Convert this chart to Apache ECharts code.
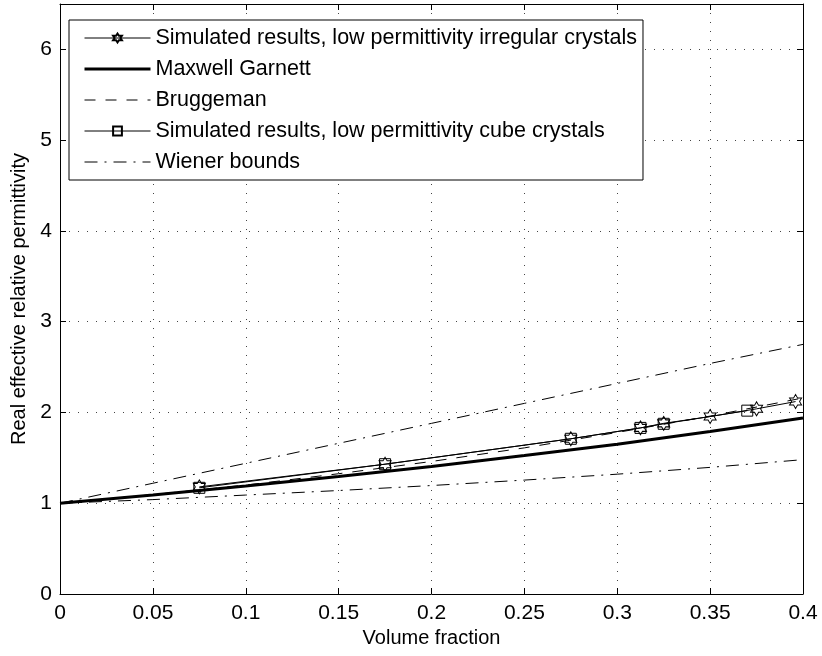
<!DOCTYPE html>
<html>
<head>
<meta charset="utf-8">
<script src="https://cdn.jsdelivr.net/npm/echarts@6/dist/echarts.min.js"></script>
<style>
  html, body { margin: 0; padding: 0; background: #fff; }
  #chart { width: 822px; height: 656px; }
</style>
</head>
<body>
<div id="chart"></div>
<script>
// volume fraction grid for the model curves
var fraction = [0, 0.05, 0.1, 0.15, 0.2, 0.25, 0.3, 0.35, 0.4]
var maxwellGarnett = [1, 1.09, 1.19, 1.295, 1.405, 1.525, 1.65, 1.79, 1.94]
var bruggeman = [1, 1.095, 1.2, 1.325, 1.46, 1.61, 1.78, 1.96, 2.16]
var wienerUpper = [1, 1.22, 1.44, 1.66, 1.88, 2.10, 2.32, 2.54, 2.75]
var wienerLower = [1, 1.04, 1.09, 1.14, 1.195, 1.255, 1.32, 1.395, 1.48]

// simulated results
var irregularX = [0.075, 0.175, 0.275, 0.3125, 0.325, 0.35, 0.375, 0.396]
var irregularY = [1.18, 1.43, 1.71, 1.83, 1.88, 1.955, 2.04, 2.12]
var cubeX = [0.075, 0.175, 0.275, 0.3125, 0.325, 0.37]
var cubeY = [1.17, 1.43, 1.71, 1.83, 1.875, 2.02]

var names = [
  'Simulated results, low permittivity irregular crystals',
  'Maxwell Garnett',
  'Bruggeman',
  'Simulated results, low permittivity cube crystals',
  'Wiener bounds'
]

var FONT = 'Liberation Sans, Arial, Helvetica, sans-serif'
var hexagram = 'path://M100,0 L128.87,50 L186.6,50 L157.7,100 L186.6,150 L128.87,150 L100,200 L71.13,150 L13.4,150 L42.3,100 L13.4,50 L71.13,50 Z'
var DASH = [11, 10]
var DASHDOT = [13, 7, 2, 7]

function pairs (xs, ys) {
  return xs.map(function (x, i) { return [x, ys[i]] })
}

var chart = echarts.init(document.getElementById('chart'))

var tickStyle = { show: true, inside: true, length: 6, lineStyle: { color: '#000', width: 1 } }
var gridStyle = { show: true, lineStyle: { color: '#444', width: 1, type: [1, 8] } }
var noMarker = { opacity: 0 }

var option = {
  animation: false,
  backgroundColor: '#fff',
  grid: { left: 60, right: 19, top: 4, bottom: 62, containLabel: false, outerBoundsMode: 'none' },
  legend: {
    orient: 'vertical',
    left: 69,
    top: 20,
    data: [
      { name: names[0], lineStyle: { color: '#000', width: 1, type: 'solid' } },
      { name: names[1], itemStyle: noMarker, lineStyle: { color: '#000', width: 3, type: 'solid' } },
      { name: names[2], itemStyle: noMarker, lineStyle: { color: '#000', width: 1, type: DASH } },
      { name: names[3], lineStyle: { color: '#000', width: 1, type: 'solid' } },
      { name: names[4], itemStyle: noMarker, lineStyle: { color: '#000', width: 1, type: DASHDOT } }
    ],
    itemWidth: 66,
    itemHeight: 11,
    itemGap: 9,
    padding: [7, 6, 7, 14],
    borderColor: '#000',
    borderWidth: 1,
    borderRadius: 0,
    backgroundColor: '#fff',
    textStyle: { fontFamily: FONT, fontSize: 21.5, color: '#000' },
    selectedMode: false
  },
  xAxis: [{
    type: 'value',
    min: 0,
    max: 0.4,
    interval: 0.05,
    name: 'Volume fraction',
    nameLocation: 'middle',
    nameGap: 34,
    nameTextStyle: { fontFamily: FONT, fontSize: 20, color: '#000' },
    axisLine: { show: true, lineStyle: { color: '#000', width: 1 } },
    axisTick: tickStyle,
    axisLabel: {
      fontFamily: FONT, fontSize: 21, color: '#000', margin: 9,
      formatter: function (v) { return String(+v.toFixed(2)) }
    },
    splitLine: gridStyle
  }, {
    type: 'value',
    position: 'top',
    min: 0,
    max: 0.4,
    interval: 0.05,
    axisLine: { show: true, onZero: false, lineStyle: { color: '#000', width: 1 } },
    axisTick: tickStyle,
    axisLabel: { show: false },
    splitLine: { show: false }
  }],
  yAxis: [{
    type: 'value',
    min: 0,
    max: 6.5,
    interval: 1,
    name: 'Real effective relative permittivity',
    nameLocation: 'middle',
    nameGap: 28,
    nameTextStyle: { fontFamily: FONT, fontSize: 20, color: '#000' },
    axisLine: { show: true, lineStyle: { color: '#000', width: 1 } },
    axisTick: tickStyle,
    axisLabel: {
      fontFamily: FONT, fontSize: 21, color: '#000', margin: 8,
      formatter: function (v) { return Number.isInteger(v) ? String(v) : '' }
    },
    splitLine: gridStyle
  }, {
    type: 'value',
    position: 'right',
    min: 0,
    max: 6.5,
    interval: 1,
    axisLine: { show: true, onZero: false, lineStyle: { color: '#000', width: 1 } },
    axisTick: tickStyle,
    axisLabel: { show: false },
    splitLine: { show: false }
  }],
  series: [{
    name: names[4],
    type: 'line',
    data: pairs(fraction, wienerUpper),
    showSymbol: false,
    symbol: 'none',
    lineStyle: { color: '#000', width: 1, type: DASHDOT },
    itemStyle: { color: '#000' },
    z: 2
  }, {
    name: names[4],
    type: 'line',
    data: pairs(fraction, wienerLower),
    showSymbol: false,
    symbol: 'none',
    lineStyle: { color: '#000', width: 1, type: DASHDOT },
    itemStyle: { color: '#000' },
    z: 2
  }, {
    name: names[2],
    type: 'line',
    data: pairs(fraction, bruggeman),
    showSymbol: false,
    symbol: 'none',
    lineStyle: { color: '#000', width: 1, type: DASH },
    itemStyle: { color: '#000' },
    z: 2
  }, {
    name: names[1],
    type: 'line',
    data: pairs(fraction, maxwellGarnett),
    showSymbol: false,
    symbol: 'none',
    lineStyle: { color: '#000', width: 3 },
    itemStyle: { color: '#000' },
    z: 3
  }, {
    name: names[3],
    type: 'line',
    data: pairs(cubeX, cubeY),
    symbol: 'rect',
    symbolSize: 11,
    lineStyle: { color: '#000', width: 1 },
    itemStyle: { color: 'rgba(0,0,0,0)', borderColor: '#000', borderWidth: 1 },
    z: 4
  }, {
    name: names[0],
    type: 'line',
    data: pairs(irregularX, irregularY),
    symbol: hexagram,
    symbolSize: [12, 14],
    lineStyle: { color: '#000', width: 1 },
    itemStyle: { color: 'rgba(0,0,0,0)', borderColor: '#000', borderWidth: 1 },
    z: 5
  }]
}

chart.setOption(option)
</script>
</body>
</html>
